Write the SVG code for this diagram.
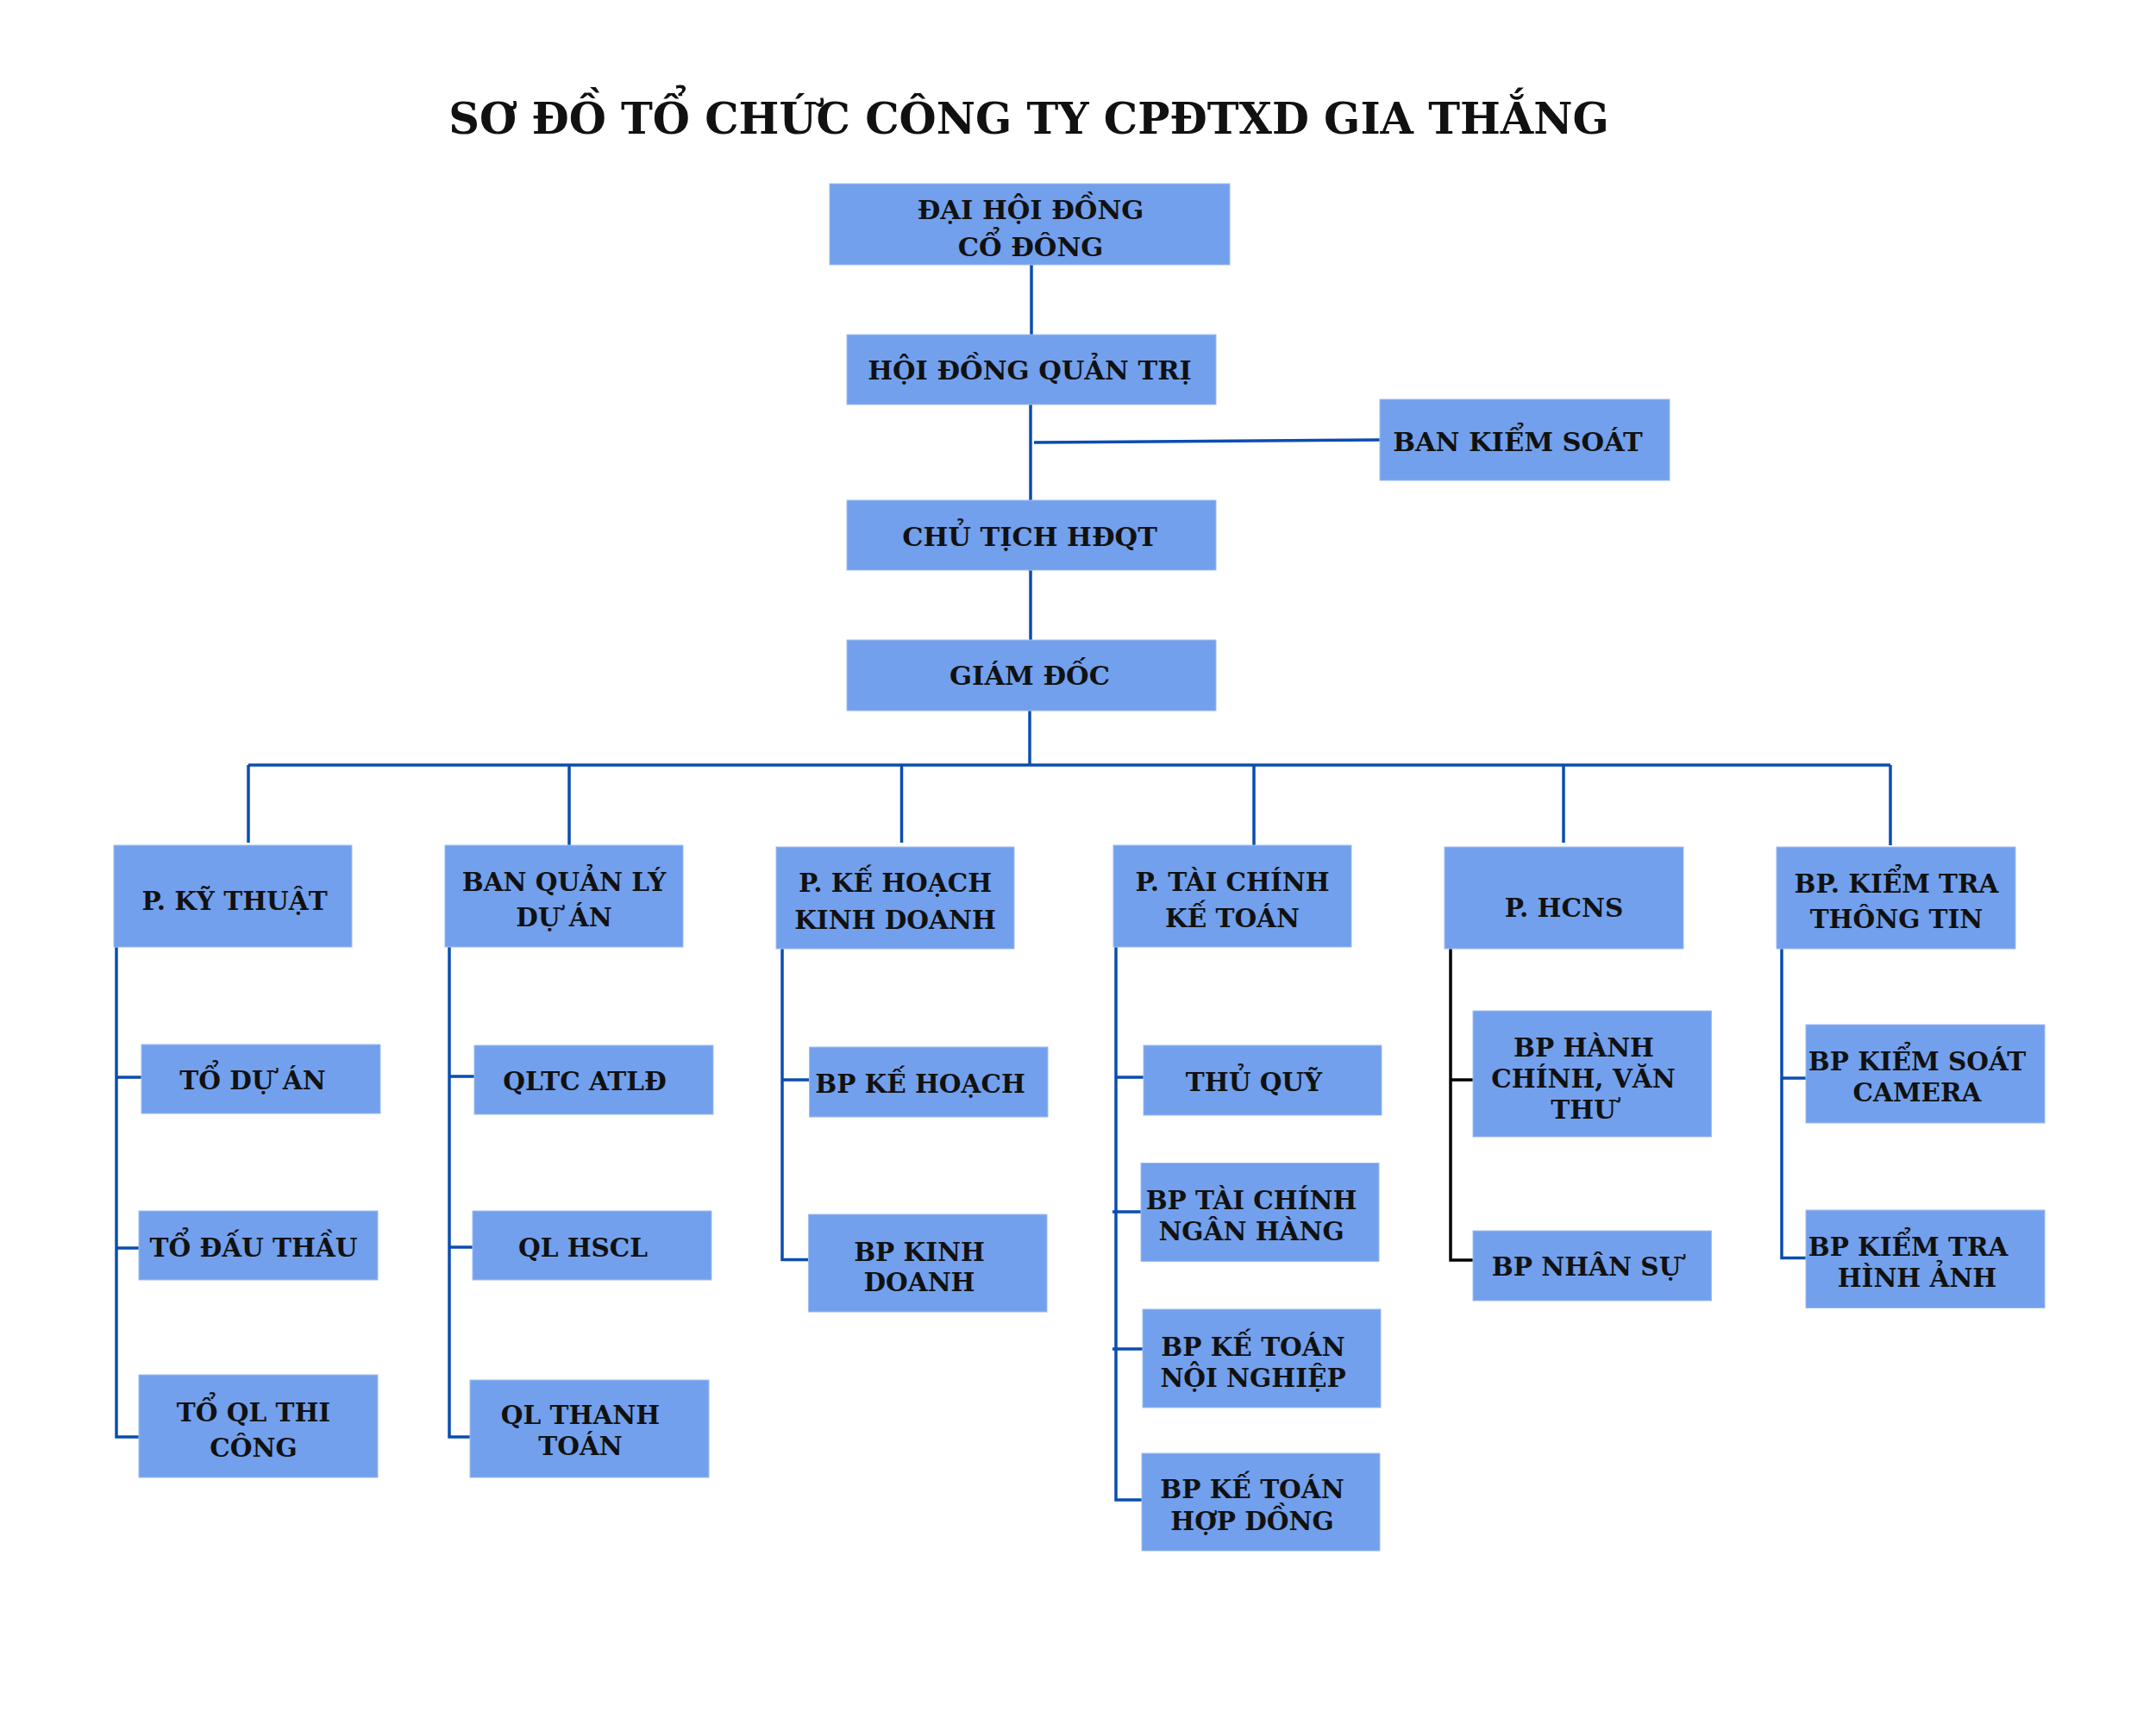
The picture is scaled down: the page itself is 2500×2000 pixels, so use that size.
<svg xmlns="http://www.w3.org/2000/svg" width="2500" height="2000" viewBox="0 0 2500 2000">
<style>
.box{fill:#72A0EC;stroke:#9dbdf2;stroke-width:1}
.t{font-family:"DejaVu Serif","Liberation Serif",serif;font-weight:bold;font-size:29.5px;fill:#111;text-anchor:middle}
.tt{font-size:30.5px}
.title{font-family:"DejaVu Serif","Liberation Serif",serif;font-weight:bold;font-size:49.5px;fill:#111;text-anchor:middle}
.c{fill:none;stroke:#0A4DB0;stroke-width:3.5}
.k{fill:none;stroke:#000;stroke-width:3.5}
</style>
<rect width="2500" height="2000" fill="#fff"/>
<text class="title" x="1193" y="155">SƠ ĐỒ TỔ CHỨC CÔNG TY CPĐTXD GIA THẮNG</text>
<g id="connectors">
<path class="c" d="M1196 307V388M1195 469V580M1199 513L1600 510M1195 661V742M1194 824V887M288 887H2192M288 887V977M660 887V980M1045.5 887V977M1454 887V980M1813 887V977M2192 887V980"/>
<path class="c" d="M135 1098V1666H161M135 1249H164M135 1447H161"/>
<path class="c" d="M521 1098V1666H545M521 1248H550M521 1446H548"/>
<path class="c" d="M907 1100V1460.5H937.5M907 1252H938.5"/>
<path class="c" d="M1294 1098V1739H1324M1294 1249H1326M1290 1405H1323M1290 1564H1325"/>
<path class="k" d="M1682 1100V1461H1708M1682 1252H1708"/>
<path class="c" d="M2066 1100V1458.5H2094M2066 1250H2094"/>
</g>
<g id="n_dhdcd"><rect class="box" x="962" y="213" width="464" height="94"/><text class="t tt" x="1195" y="254">ĐẠI HỘI ĐỒNG</text><text class="t tt" x="1195" y="297">CỔ ĐÔNG</text></g>
<g id="n_hdqt"><rect class="box" x="982" y="388" width="428" height="81"/><text class="t tt" x="1194" y="440">HỘI ĐỒNG QUẢN TRỊ</text></g>
<g id="n_bks"><rect class="box" x="1600" y="463" width="336" height="94"/><text class="t tt" x="1760" y="523">BAN KIỂM SOÁT</text></g>
<g id="n_ct"><rect class="box" x="982" y="580" width="428" height="81"/><text class="t tt" x="1194" y="633">CHỦ TỊCH HĐQT</text></g>
<g id="n_gd"><rect class="box" x="982" y="742" width="428" height="82"/><text class="t tt" x="1194" y="794">GIÁM ĐỐC</text></g>
<g id="n_kt"><rect class="box" x="132" y="980" width="276" height="118"/><text class="t" x="272" y="1055">P. KỸ THUẬT</text></g>
<g id="n_bql"><rect class="box" x="516" y="980" width="276" height="118"/><text class="t" x="654" y="1033">BAN QUẢN LÝ</text><text class="t" x="654" y="1074">DỰ ÁN</text></g>
<g id="n_khkd"><rect class="box" x="900" y="982" width="276" height="118"/><text class="t" x="1038" y="1034">P. KẾ HOẠCH</text><text class="t" x="1038" y="1077">KINH DOANH</text></g>
<g id="n_tckt"><rect class="box" x="1291" y="980" width="276" height="118"/><text class="t" x="1429" y="1033">P. TÀI CHÍNH</text><text class="t" x="1429" y="1075">KẾ TOÁN</text></g>
<g id="n_hcns"><rect class="box" x="1675" y="982" width="277" height="118"/><text class="t" x="1813.5" y="1063">P. HCNS</text></g>
<g id="n_kttt"><rect class="box" x="2060" y="982" width="277" height="118"/><text class="t" x="2199" y="1035">BP. KIỂM TRA</text><text class="t" x="2199" y="1076">THÔNG TIN</text></g>
<g id="n_toduan"><rect class="box" x="164" y="1211" width="277" height="80"/><text class="t" x="293" y="1263">TỔ DỰ ÁN</text></g>
<g id="n_todauthau"><rect class="box" x="161" y="1404" width="277" height="80"/><text class="t" x="294" y="1457">TỔ ĐẤU THẦU</text></g>
<g id="n_toqltc"><rect class="box" x="161" y="1594" width="277" height="119"/><text class="t" x="294" y="1648">TỔ QL THI</text><text class="t" x="294" y="1689">CÔNG</text></g>
<g id="n_qltc"><rect class="box" x="550" y="1212" width="277" height="80"/><text class="t" x="678" y="1264">QLTC ATLĐ</text></g>
<g id="n_qlhscl"><rect class="box" x="548" y="1404" width="277" height="80"/><text class="t" x="676" y="1457">QL HSCL</text></g>
<g id="n_qltt"><rect class="box" x="545" y="1600" width="277" height="113"/><text class="t" x="673" y="1651">QL THANH</text><text class="t" x="673" y="1687">TOÁN</text></g>
<g id="n_bpkh"><rect class="box" x="938.5" y="1214" width="276.5" height="81"/><text class="t" x="1067" y="1267">BP KẾ HOẠCH</text></g>
<g id="n_bpkd"><rect class="box" x="937.5" y="1408" width="276.5" height="113"/><text class="t" x="1066" y="1462">BP KINH</text><text class="t" x="1066" y="1497">DOANH</text></g>
<g id="n_thuquy"><rect class="box" x="1326" y="1212" width="276" height="81"/><text class="t" x="1454" y="1264.5">THỦ QUỸ</text></g>
<g id="n_bptc"><rect class="box" x="1323" y="1348.5" width="276" height="114"/><text class="t" x="1451" y="1402">BP TÀI CHÍNH</text><text class="t" x="1451" y="1437.5">NGÂN HÀNG</text></g>
<g id="n_ktnn"><rect class="box" x="1325" y="1518" width="276" height="114"/><text class="t" x="1453" y="1571.5">BP KẾ TOÁN</text><text class="t" x="1453" y="1607.5">NỘI NGHIỆP</text></g>
<g id="n_kthd"><rect class="box" x="1324" y="1685" width="276" height="113"/><text class="t" x="1452" y="1737">BP KẾ TOÁN</text><text class="t" x="1452" y="1774">HỢP DỒNG</text></g>
<g id="n_hc"><rect class="box" x="1708" y="1172" width="276.5" height="146"/><text class="t" x="1836.5" y="1225">BP HÀNH</text><text class="t" x="1836" y="1261">CHÍNH, VĂN</text><text class="t" x="1836" y="1297">THƯ</text></g>
<g id="n_ns"><rect class="box" x="1708" y="1427" width="276.5" height="81"/><text class="t" x="1839.5" y="1479">BP NHÂN SỰ</text></g>
<g id="n_ksc"><rect class="box" x="2094" y="1188" width="277" height="114"/><text class="t" x="2223" y="1241">BP KIỂM SOÁT</text><text class="t" x="2223" y="1276.5">CAMERA</text></g>
<g id="n_ktha"><rect class="box" x="2094" y="1403" width="277" height="113.5"/><text class="t" x="2212.5" y="1456">BP KIỂM TRA</text><text class="t" x="2223" y="1491.5">HÌNH ẢNH</text></g>
</svg>
